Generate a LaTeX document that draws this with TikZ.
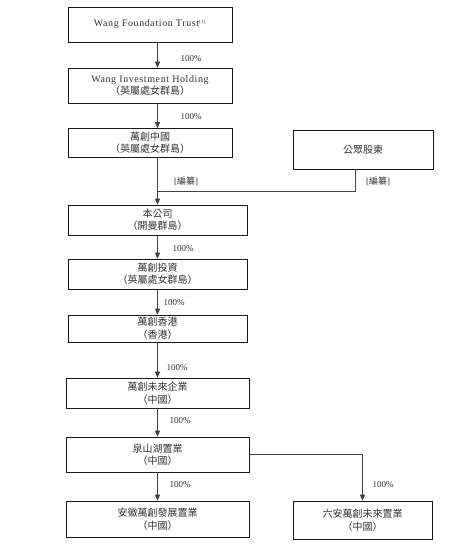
\documentclass[tikz,border=0pt]{standalone}
\usepackage{fontspec}
\setmainfont{Liberation Serif}
\newfontfamily\spaced[LetterSpace=6]{Liberation Serif}
\newfontfamily\cjk{Noto Sans CJK TC}
\usetikzlibrary{arrows.meta}

\begin{document}
\begin{tikzpicture}[x=1pt, y=-1pt,
    entity/.style = {draw=black!90, line width=0.6pt, align=center, inner sep=0pt,
                     font=\fontsize{10}{12.5}\selectfont, text=black!80},
    own/.style = {draw=black!75, line width=0.6pt, -{Triangle[length=6pt, width=5pt]}},
    link/.style = {draw=black!75, line width=0.6pt},
    share/.style = {font=\fontsize{9}{10}\selectfont, text=black!80, inner sep=0pt}]
  \useasboundingbox[fill=white] (0,0) rectangle (472,548);

  \node[entity, minimum width=164pt, minimum height=35pt] (trust) at (150,24.5)
    {\spaced Wang Foundation Trust\textsuperscript{\tiny(1)}};
  \node[entity, minimum width=164pt, minimum height=35pt] (holding) at (150,85.5)
    {\spaced Wang Investment Holding\\{\cjk （英屬處女群島）}};
  \node[entity, minimum width=164pt, minimum height=29pt] (wcchina) at (150,143)
    {\cjk 萬創中國\\\cjk （英屬處女群島）};
  \node[entity, minimum width=140pt, minimum height=39pt] (public) at (363,149.5)
    {\cjk 公眾股東};
  \node[entity, minimum width=179pt, minimum height=30pt] (company) at (157.5,220)
    {\cjk 本公司\\\cjk （開曼群島）};
  \node[entity, minimum width=179pt, minimum height=30pt] (invest) at (157.5,274)
    {\cjk 萬創投資\\\cjk （英屬處女群島）};
  \node[entity, minimum width=179pt, minimum height=27pt] (hk) at (157.5,328.5)
    {\cjk 萬創香港\\\cjk （香港）};
  \node[entity, minimum width=183pt, minimum height=30pt] (future) at (157.5,393)
    {\cjk 萬創未來企業\\\cjk （中國）};
  \node[entity, minimum width=183pt, minimum height=35pt] (quanshan) at (157.5,454.5)
    {\cjk 泉山湖置業\\\cjk （中國）};
  \node[entity, minimum width=183pt, minimum height=36pt] (anhui) at (157.5,519)
    {\cjk 安徽萬創發展置業\\\cjk （中國）};
  \node[entity, minimum width=139pt, minimum height=38pt] (luan) at (362.5,520)
    {\cjk 六安萬創未來置業\\\cjk （中國）};
  \coordinate (merge) at (157.5,191);

  \draw[own] (trust.south -| company) -- (holding.north -| company);
  \draw[own] (holding.south -| company) -- (wcchina.north -| company);
  \draw[own] (wcchina.south -| company) -- (company.north);
  \draw[link] ([xshift=-8pt]public.south) |- (merge);
  \draw[own] (company.south) -- (invest.north);
  \draw[own] (invest.south) -- (hk.north);
  \draw[own] (hk.south) -- (future.north);
  \draw[own] (future.south) -- (quanshan.north);
  \draw[own] (quanshan.south) -- (anhui.north);
  \draw[own] (quanshan.east) -| (luan.north);

  \node[share] (p1) at (191,59) {100\%};
  \node[share] (p2) at (191,117) {100\%};
  \node[share] (d1) at (186,181) {[{\cjk 編纂}]};
  \node[share] (d2) at (378,181) {[{\cjk 編纂}]};
  \node[share] (p3) at (183,249) {100\%};
  \node[share] (p4) at (174,303) {100\%};
  \node[share] (p5) at (177,368) {100\%};
  \node[share] (p6) at (180,421) {100\%};
  \node[share] (p7) at (180,485) {100\%};
  \node[share] (p8) at (383,485) {100\%};
\end{tikzpicture}
\end{document}
